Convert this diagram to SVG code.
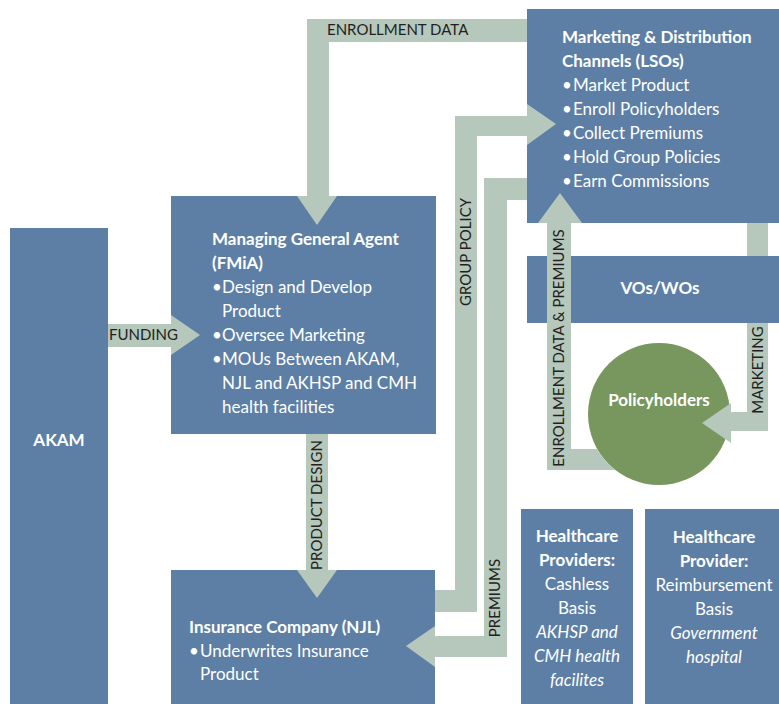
<svg xmlns="http://www.w3.org/2000/svg" width="779" height="704" viewBox="0 0 779 704">
<defs>
<style>
.box{fill:#5d7fa6}
.band{fill:#b6c7bb}
.t{font-family:Lato,"Liberation Sans",sans-serif;font-size:17px;fill:#ffffff}
.b{font-weight:bold}
.i{font-style:italic}
.lbl{font-family:Lato,"Liberation Sans",sans-serif;font-size:15px;fill:#231f20}
.c{text-anchor:middle}
</style>
</defs>
<rect width="779" height="704" fill="#ffffff"/>
<g id="akam">
<rect class="box" x="10" y="228" width="98" height="476"/>
<text class="t b c" x="59" y="446">AKAM</text>
</g>
<g id="fmia">
<rect class="box" x="171" y="196" width="265" height="238"/>
<text class="t b" x="212" y="245">Managing General Agent</text>
<text class="t b" x="212" y="269">(FMiA)</text>
<text class="t" x="212" y="293">•</text><text class="t" x="222" y="293">Design and Develop</text>
<text class="t" x="222" y="317">Product</text>
<text class="t" x="212" y="341">•</text><text class="t" x="222" y="341">Oversee Marketing</text>
<text class="t" x="212" y="365">•</text><text class="t" x="222" y="365">MOUs Between AKAM,</text>
<text class="t" x="222" y="389">NJL and AKHSP and CMH</text>
<text class="t" x="222" y="413">health facilities</text>
</g>
<g id="njl">
<rect class="box" x="171" y="570" width="264" height="134"/>
<text class="t b" x="189" y="633">Insurance Company (NJL)</text>
<text class="t" x="189" y="657">•</text><text class="t" x="200" y="657">Underwrites Insurance</text>
<text class="t" x="200" y="680">Product</text>
</g>
<g id="lso">
<rect class="box" x="527" y="9" width="252" height="214"/>
<text class="t b" x="562" y="43">Marketing &amp; Distribution</text>
<text class="t b" x="562" y="67">Channels (LSOs)</text>
<text class="t" x="562" y="91">•</text><text class="t" x="573" y="91">Market Product</text>
<text class="t" x="562" y="115">•</text><text class="t" x="573" y="115">Enroll Policyholders</text>
<text class="t" x="562" y="139">•</text><text class="t" x="573" y="139">Collect Premiums</text>
<text class="t" x="562" y="163">•</text><text class="t" x="573" y="163">Hold Group Policies</text>
<text class="t" x="562" y="187">•</text><text class="t" x="573" y="187">Earn Commissions</text>
</g>
<g id="vos">
<rect class="box" x="527" y="256" width="252" height="67"/>
<text class="t b c" x="660" y="294">VOs/WOs</text>
</g>
<g id="policyholders">
<circle cx="659" cy="414" r="71" fill="#77975f"/>
<text class="t b c" x="659" y="406">Policyholders</text>
</g>
<g id="hc-cashless">
<rect class="box" x="521" y="509" width="112" height="195"/>
<text class="t b c" x="577" y="542">Healthcare</text>
<text class="t b c" x="577" y="566">Providers:</text>
<text class="t c" x="577" y="590">Cashless</text>
<text class="t c" x="577" y="614">Basis</text>
<text class="t i c" x="577" y="638">AKHSP and</text>
<text class="t i c" x="577" y="662">CMH health</text>
<text class="t i c" x="577" y="686">facilites</text>
</g>
<g id="hc-reimb">
<rect class="box" x="645" y="509" width="134" height="195"/>
<text class="t b c" x="714" y="543">Healthcare</text>
<text class="t b c" x="714" y="567">Provider:</text>
<text class="t c" x="714" y="591">Reimbursement</text>
<text class="t c" x="714" y="615">Basis</text>
<text class="t i c" x="714" y="639">Government</text>
<text class="t i c" x="714" y="663">hospital</text>
</g>
<g id="connectors">
<!-- funding -->
<path class="band" d="M108,324 H171 V315 L200,335 L171,355 V347 H108 Z"/>
<text class="lbl" x="109" y="340">FUNDING</text>
<!-- enrollment data -->
<path class="band" d="M527,19 H307 V196 H297 L317,225 L337,196 H329 V42 H527 Z"/>
<text class="lbl" x="327" y="35">ENROLLMENT DATA</text>
<!-- product design -->
<path class="band" d="M306,434 V570 H297 L317,598 L337,570 H328 V434 Z"/>
<text class="lbl c" transform="translate(322,505) rotate(-90)">PRODUCT DESIGN</text>
<!-- group policy -->
<path class="band" d="M435,590 H455 V116 H527 V104 L556,124 L527,145 V136 H477 V612 H435 Z"/>
<text class="lbl c" transform="translate(471,252) rotate(-90)">GROUP POLICY</text>
<!-- premiums -->
<path class="band" d="M527,178 H484 V636 H435 V626 L406,646 L435,667 V657 H507 V200 H527 Z"/>
<text class="lbl c" transform="translate(500,598) rotate(-90)">PREMIUMS</text>
<!-- enrollment data & premiums -->
<path class="band" d="M547,470 V223 H538 L560,193 L582,223 H571 V449 H597 A71,71 0 0 0 615,470 Z"/>
<text class="lbl c" transform="translate(564,348) rotate(-90)">ENROLLMENT DATA &amp; PREMIUMS</text>
<!-- marketing -->
<rect class="band" x="747" y="223" width="21" height="33"/>
<path class="band" d="M747,323 H768 V431 H731 V443 L702,423 L731,403 V412 H747 Z"/>
<text class="lbl c" transform="translate(763,370) rotate(-90)">MARKETING</text>
</g>
</svg>
